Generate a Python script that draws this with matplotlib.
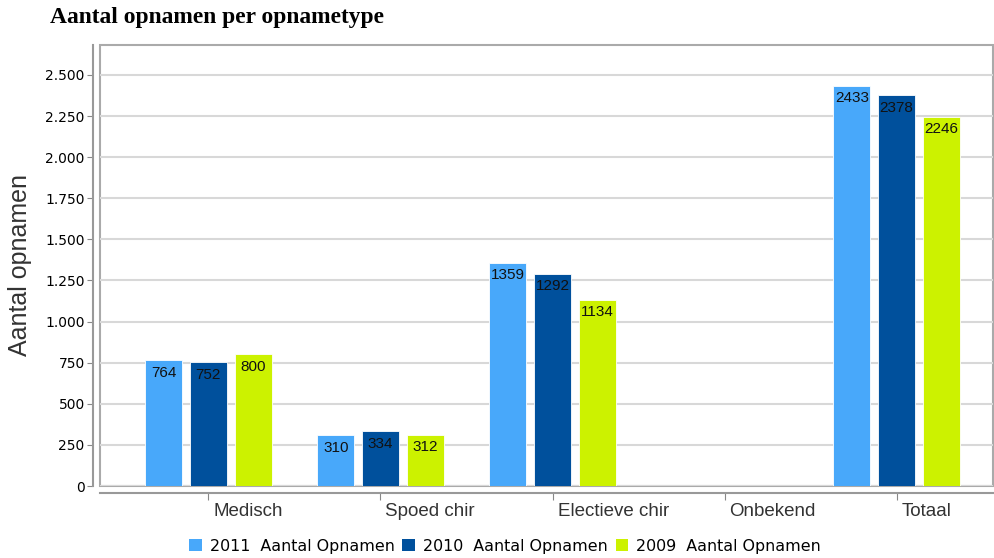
import matplotlib
matplotlib.use('Agg')
import matplotlib.pyplot as plt
import numpy as np
from matplotlib.patches import Patch

categories = ['Medisch', 'Spoed chir', 'Electieve chir', 'Onbekend', 'Totaal']
series_names = ['2011  Aantal Opnamen', '2010  Aantal Opnamen', '2009  Aantal Opnamen']
values_2011 = [764, 310, 1359, np.nan, 2433]
values_2010 = [752, 334, 1292, np.nan, 2378]
values_2009 = [800, 312, 1134, np.nan, 2246]
y_ticks = [0, 250, 500, 750, 1000, 1250, 1500, 1750, 2000, 2250, 2500]
y_tick_labels = ['0', '250', '500', '750', '1.000', '1.250', '1.500', '1.750',
                 '2.000', '2.250', '2.500']

colors = ['#48a8fa', '#00509c', '#ccf200']

fig = plt.figure(figsize=(9.95, 5.58), dpi=100)
ax = fig.add_axes([100 / 995, 1 - 486 / 558, 893 / 995, 441 / 558])

x = np.arange(len(categories))
width = 0.215
step = 0.26
all_series = [values_2011, values_2010, values_2009]
for i, (vals, col) in enumerate(zip(all_series, colors)):
    bars = ax.bar(x + (i - 1) * step, vals, width, color=col, edgecolor='#ffffff',
                  linewidth=0.6, zorder=3)
    for b, v in zip(bars, vals):
        if np.isnan(v):
            continue
        ax.annotate(str(int(v)), (b.get_x() + b.get_width() / 2, v),
                    xytext=(0, -4), textcoords='offset points', ha='center', va='top',
                    fontsize=11, family='Liberation Sans', color='#111111', zorder=4)

ax.set_xlim(-0.63, 4.56)
ax.set_ylim(0, 2682)
ax.set_yticks(y_ticks)
ax.set_yticklabels(y_tick_labels, family='Liberation Sans', fontsize=13, color='#3a3a3a')
ax.set_xticks(x)
ax.set_xticklabels([])
ax.tick_params(axis='x', length=5, color='#888888')
ax.tick_params(axis='y', length=4, color='#888888', pad=2)

# category labels sit just right of their tick, like the original
for xi, cat in zip(x, categories):
    ax.annotate(cat, (xi, 0), xycoords=('data', 'axes fraction'), xytext=(5, -17),
                textcoords='offset pixels', ha='left', va='top', fontsize=13.5,
                family='Liberation Sans', color='#333333', annotation_clip=False)

ax.grid(axis='y', color='#d8d8d8', linewidth=1.5, zorder=0)
ax.set_axisbelow(True)

for s in ['top', 'right']:
    ax.spines[s].set_visible(False)
for s in ['left', 'bottom']:
    ax.spines[s].set_position(('outward', 5))
    ax.spines[s].set_color('#999999')
    ax.spines[s].set_linewidth(1.5)
ax.patch.set_edgecolor('#aaaaaa')
ax.patch.set_linewidth(1.5)

fig.text(50 / 995, 1 - 18 / 558, 'Aantal opnamen per opnametype', family='Liberation Serif',
         fontweight='bold', fontsize=16.9, va='center', ha='left')
fig.text(20 / 995, 1 - 265 / 558, 'Aantal opnamen', family='Liberation Sans', fontsize=18,
         rotation=90, va='center', ha='center', color='#333333')

handles = [Patch(facecolor=c, edgecolor='none') for c in colors]
fig.legend(handles, series_names, loc='center', bbox_to_anchor=(505 / 995, 1 - 546 / 558),
           ncol=3, frameon=False, prop={'family': 'DejaVu Sans', 'size': 11.4},
           handlelength=0.8, handleheight=0.8, handletextpad=0.5, columnspacing=0.5)

fig.savefig('out.png', dpi=100)
